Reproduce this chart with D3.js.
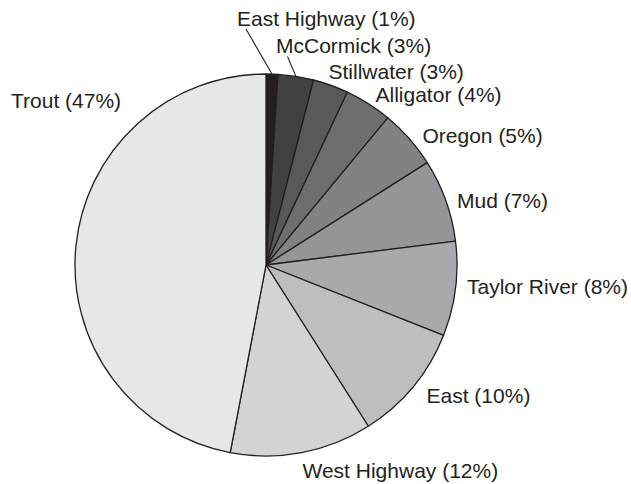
<!DOCTYPE html>
<html>
<head>
<meta charset="utf-8">
<script src="https://cdn.jsdelivr.net/npm/d3@7"></script>
<style>
  html, body { margin: 0; padding: 0; background: #ffffff; }
  svg { display: block; }
  text { font-family: "Liberation Sans", Arial, Helvetica, sans-serif; fill: #231f20; }
</style>
</head>
<body>
<svg id="chart" width="631" height="484"></svg>
<script>
// Share of each site, clockwise from 12 o'clock
const sites = ["East Highway", "McCormick", "Stillwater", "Alligator", "Oregon",
               "Mud", "Taylor River", "East", "West Highway", "Trout"];
const shares = [1, 3, 3, 4, 5, 7, 8, 10, 12, 47];
const shades = ["#231f20", "#414042", "#58595b", "#6d6e71", "#808285",
                "#939598", "#a7a9ac", "#bcbec0", "#d1d3d4", "#e6e7e8"];

// Text placement for each label (start-anchored, baseline)
const labelAt = {
  "East Highway": [237, 26],
  "McCormick": [276, 52.5],
  "Stillwater": [328.5, 79],
  "Alligator": [375.5, 101.5],
  "Oregon": [422.5, 142.5],
  "Mud": [457, 208],
  "Taylor River": [467, 294],
  "East": [426.5, 402.5],
  "West Highway": [302.5, 478],
  "Trout": [11, 107.5]
};
// Outer ends of the leader lines for the thin slices at the top
const leaderEnd = {
  "East Highway": [246, 29],
  "McCormick": [287.5, 56.5]
};

const svg = d3.select("#chart");
const cx = 266, cy = 265, radius = 191;

const data = sites.map((name, i) => ({ name, value: shares[i], color: shades[i] }));

const pie = d3.pie().sort(null).value(d => d.value);
const arcs = pie(data);
const arc = d3.arc().innerRadius(0).outerRadius(radius);

const g = svg.append("g").attr("transform", `translate(${cx},${cy})`);

g.selectAll("path.slice")
  .data(arcs)
  .join("path")
  .attr("class", "slice")
  .attr("d", arc)
  .attr("fill", d => d.data.color)
  .attr("stroke", "#231f20")
  .attr("stroke-width", 1.3)
  .attr("stroke-linejoin", "round");

// Leader lines from the slice edge at its mid-angle
const midAngle = d => (d.startAngle + d.endAngle) / 2;
arcs.filter(d => leaderEnd[d.data.name]).forEach(d => {
  const a = midAngle(d);
  const x0 = cx + radius * Math.sin(a);
  const y0 = cy - radius * Math.cos(a);
  const [x1, y1] = leaderEnd[d.data.name];
  svg.append("line")
    .attr("x1", x0).attr("y1", y0)
    .attr("x2", x1).attr("y2", y1)
    .attr("stroke", "#231f20")
    .attr("stroke-width", 1.1);
});

svg.selectAll("text.label")
  .data(arcs)
  .join("text")
  .attr("class", "label")
  .attr("x", d => labelAt[d.data.name][0])
  .attr("y", d => labelAt[d.data.name][1])
  .attr("font-size", "21px")
  .attr("text-anchor", "start")
  .text(d => `${d.data.name} (${d.data.value}%)`);
</script>
</body>
</html>
